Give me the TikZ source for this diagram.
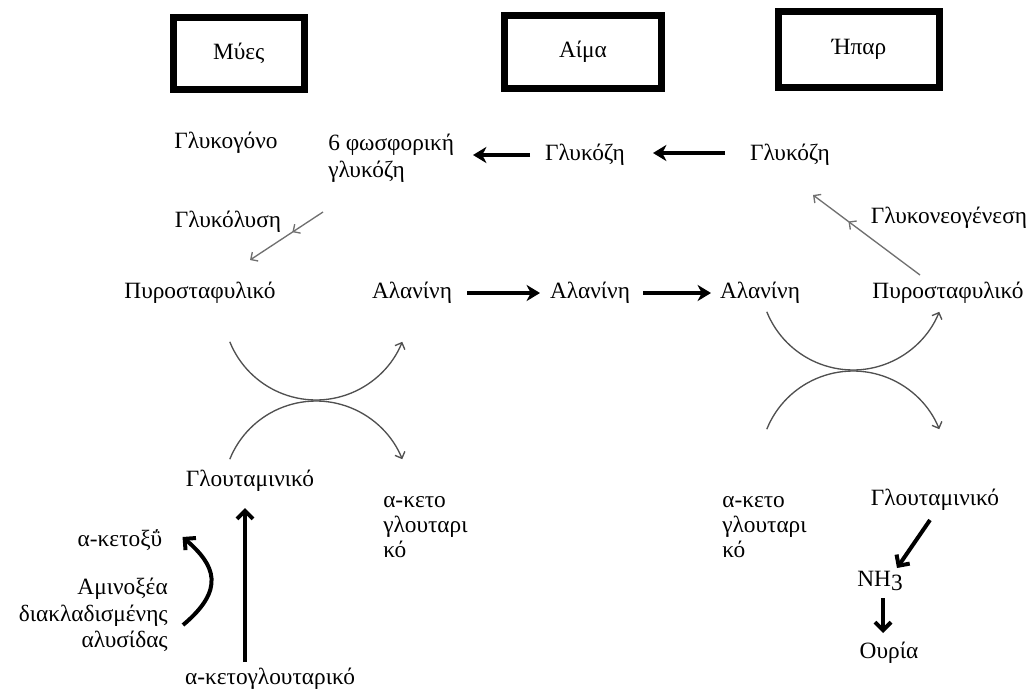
\documentclass[tikz,border=0pt]{standalone}
\usepackage{fontspec}
\setmainfont{Liberation Serif}
\usetikzlibrary{arrows.meta,calc,decorations.markings}
\definecolor{flow}{HTML}{707070}
\definecolor{swap}{HTML}{505050}
\begin{document}
\begin{tikzpicture}[x=0.75pt,y=0.75pt,
  lbl/.style={inner sep=0pt, font=\fontsize{17.5}{20}\selectfont},
  organ/.style={draw, line width=5.25pt, inner sep=0pt, font=\fontsize{17.5}{20}\selectfont},
  bold/.style={line width=2.8pt, -{Stealth[length=10pt,width=12pt,inset=3pt]}},
  boldbarb/.style={line width=3pt, -{Straight Barb[length=6pt,width=12pt]}},
  faint/.style={draw=flow, line width=1pt, -{Straight Barb[length=4pt,width=8pt]}},
  midbarb/.style={postaction={decorate}, decoration={markings,
      mark=at position #1 with {\arrow[flow]{Straight Barb[length=4pt,width=8pt]}}}},
  swaparc/.style={draw=swap, line width=1pt, -{Straight Barb[length=4pt,width=8pt]}}]
\useasboundingbox (0,0) rectangle (1032,-693);

% compartments
\node[organ, minimum width=97.9pt,  minimum height=54pt]    (mys)  at (238.75,-53.5) {Μύες};
\node[organ, minimum width=117.75pt, minimum height=54.75pt] (aima) at (583,-52)     {Αίμα};
\node[organ, minimum width=120.75pt, minimum height=57pt]   (hpar) at (859,-49)     {Ήπαρ};

% muscle side
\node[lbl] (glykogono) at (226,-143) {Γλυκογόνο};
\node[lbl, align=left, anchor=west] (g6p) at (328,-158.5) {6 φωσφορική\\γλυκόζη};
\node[lbl] (glykolysi) at (228,-222) {Γλυκόλυση};
\node[lbl] (pyrm) at (200,-293) {Πυροσταφυλικό};
\node[lbl] (alam) at (412,-293) {Αλανίνη};
\node[lbl] (glum) at (250,-481) {Γλουταμινικό};
\node[lbl, align=left, anchor=west, font=\fontsize{17.5}{18.75}\selectfont] (akgm) at (383,-527) {α-κετο\\γλουταρι\\κό};
\node[lbl] (ketoxy) at (120,-540) {α-κετοξΰ};
\node[lbl, align=right, anchor=east] (amino) at (168,-615) {Αμινοξέα\\διακλαδισμένης\\αλυσίδας};
\node[lbl] (akgb) at (270,-679) {α-κετογλουταρικό};

% blood
\node[lbl] (glub) at (585,-155) {Γλυκόζη};
\node[lbl] (alab) at (590,-293) {Αλανίνη};

% liver side
\node[lbl] (glul) at (790,-155) {Γλυκόζη};
\node[lbl] (gne) at (949,-218) {Γλυκονεογένεση};
\node[lbl] (alal) at (760,-293) {Αλανίνη};
\node[lbl] (pyrl) at (948,-293) {Πυροσταφυλικό};
\node[lbl, align=left, anchor=west, font=\fontsize{17.5}{18.75}\selectfont] (akgl) at (722,-527) {α-κετο\\γλουταρι\\κό};
\node[lbl] (glul2) at (935,-500) {Γλουταμινικό};
\node[lbl] (nh3) at (880,-581) {NH\raisebox{-0.3ex}{3}};
\node[lbl] (urea) at (889,-653) {Ουρία};

% glucose transport
\draw[bold] ($(glub.center)+(-55,0)$) -- ($(g6p.west)+(145,3.5)$);
\draw[bold] ($(glul.center)+(-65,2)$) -- ($(glub.center)+(68,2)$);

% glycolysis and gluconeogenesis
\draw[faint, midbarb=0.42] ($(g6p.west)+(-5,-53.5)$) -- ($(pyrm.center)+(50,33)$);
\draw[faint, midbarb=0.67] ($(pyrl.center)+(-28,18)$) -- ($(glul.center)+(23,-40)$);

% alanine transport
\draw[bold] ($(alam.center)+(55,0)$) -- ($(alab.center)+(-50,0)$);
\draw[bold] ($(alab.center)+(53,0)$) -- ($(alal.center)+(-49,0)$);

% transamination, muscle
\draw[swaparc] (229.8,-341.8) arc[start angle=202, end angle=338, radius=93];
\draw[swaparc] (229.8,-459.2) arc[start angle=158, end angle=22, radius=93];

% transamination, liver
\draw[swaparc] (766.8,-311.8) arc[start angle=202, end angle=338, radius=93];
\draw[swaparc] (766.8,-429.2) arc[start angle=158, end angle=22, radius=93];

% branched-chain amino acids and glutamate
\draw[boldbarb] ($(amino.east)+(15,-10)$) .. controls (226,-589) and (215,-565) .. ($(ketoxy.east)+(20,3)$);
\draw[boldbarb] ($(akgb.center)+(-25,17)$) -- ($(glum.center)+(-5,-27)$);

% urea formation
\draw[boldbarb] ($(glul2.center)+(-5,-20)$) -- ($(nh3.center)+(17,13)$);
\draw[boldbarb] ($(nh3.center)+(3,-17)$) -- ($(urea.center)+(-6,20)$);
\end{tikzpicture}
\end{document}
